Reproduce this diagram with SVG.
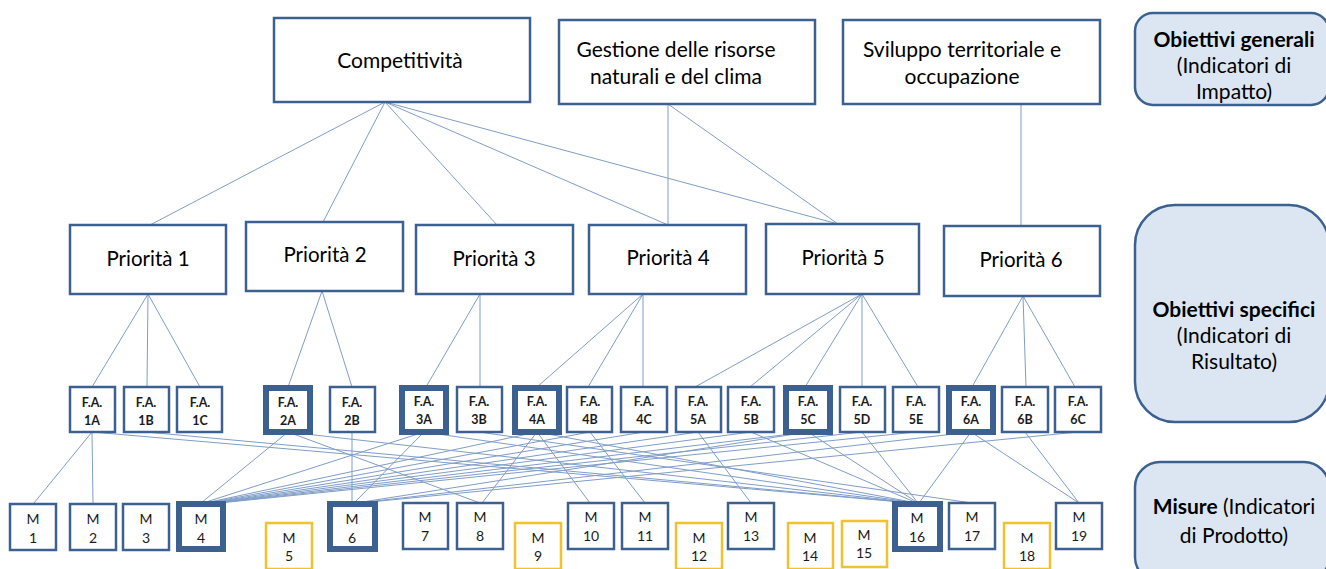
<svg xmlns="http://www.w3.org/2000/svg" width="1326" height="569" viewBox="0 0 1326 569">
  <style>
    text { font-family: Lato, "Open Sans", "Liberation Sans", sans-serif; fill: #000; text-anchor: middle; }
    .box { fill: #fff; stroke: #3c6190; stroke-width: 2.5; }
    .thick { fill: #fff; stroke: #3c6190; stroke-width: 6; }
    .gold { fill: #fff; stroke: #f2c12e; stroke-width: 2.5; }
    .side { fill: #dce6f2; stroke: #3c6190; stroke-width: 2.5; }
    .big { font-size: 21px; }
    .pri { font-size: 20.5px; }
    .fa { font-size: 12.5px; font-weight: 700; fill: #1a1a1a; }
    .m { font-size: 14px; fill: #1a1a1a; }
    .lab { font-size: 21px; }
    .b { font-weight: 700; }
    #connectors line { stroke: #7f9dc8; stroke-width: 1; }
  </style>

  <!-- connectors drawn first so boxes sit on top -->
  <g id="connectors">
    <!-- general objectives to priorities -->
    <line x1="385" y1="102" x2="150" y2="225"/>
    <line x1="385" y1="102" x2="323" y2="222"/>
    <line x1="385" y1="102" x2="497" y2="225"/>
    <line x1="385" y1="102" x2="668" y2="225"/>
    <line x1="385" y1="102" x2="838" y2="224"/>
    <line x1="668" y1="104" x2="668" y2="225"/>
    <line x1="668" y1="104" x2="838" y2="224"/>
    <line x1="1021" y1="104" x2="1021" y2="226"/>
    <!-- priorities to focus areas -->
    <line x1="148" y1="294" x2="92" y2="387"/>
    <line x1="148" y1="294" x2="147" y2="387"/>
    <line x1="148" y1="294" x2="200" y2="387"/>
    <line x1="322" y1="291" x2="288" y2="387"/>
    <line x1="322" y1="291" x2="352" y2="387"/>
    <line x1="480" y1="294" x2="426" y2="387"/>
    <line x1="480" y1="294" x2="480" y2="387"/>
    <line x1="643" y1="294" x2="537" y2="387"/>
    <line x1="643" y1="294" x2="588" y2="387"/>
    <line x1="643" y1="294" x2="643" y2="387"/>
    <line x1="862" y1="294" x2="695" y2="387"/>
    <line x1="862" y1="294" x2="750" y2="387"/>
    <line x1="862" y1="294" x2="805" y2="387"/>
    <line x1="862" y1="294" x2="862" y2="387"/>
    <line x1="862" y1="294" x2="918" y2="387"/>
    <line x1="1023" y1="296" x2="972" y2="387"/>
    <line x1="1023" y1="296" x2="1026" y2="387"/>
    <line x1="1023" y1="296" x2="1075" y2="387"/>
    <!-- focus areas to measures -->
    <line x1="92" y1="432" x2="34" y2="503"/>
    <line x1="92" y1="432" x2="93" y2="503"/>
    <line x1="92" y1="432" x2="913" y2="503"/>
    <line x1="146" y1="432" x2="914" y2="503"/>
    <line x1="288" y1="432" x2="201" y2="503"/>
    <line x1="288" y1="432" x2="480" y2="503"/>
    <line x1="288" y1="432" x2="915" y2="503"/>
    <line x1="352" y1="432" x2="352" y2="503"/>
    <line x1="424" y1="432" x2="203" y2="503"/>
    <line x1="424" y1="432" x2="354" y2="503"/>
    <line x1="424" y1="432" x2="916" y2="503"/>
    <line x1="479" y1="432" x2="972" y2="503"/>
    <line x1="537" y1="432" x2="205" y2="503"/>
    <line x1="537" y1="432" x2="482" y2="503"/>
    <line x1="537" y1="432" x2="590" y2="503"/>
    <line x1="537" y1="432" x2="917" y2="503"/>
    <line x1="590" y1="432" x2="645" y2="503"/>
    <line x1="590" y1="432" x2="207" y2="503"/>
    <line x1="644" y1="432" x2="209" y2="503"/>
    <line x1="698" y1="432" x2="751" y2="503"/>
    <line x1="698" y1="432" x2="211" y2="503"/>
    <line x1="751" y1="432" x2="917" y2="503"/>
    <line x1="751" y1="432" x2="213" y2="503"/>
    <line x1="808" y1="432" x2="918" y2="503"/>
    <line x1="808" y1="432" x2="215" y2="503"/>
    <line x1="808" y1="432" x2="356" y2="503"/>
    <line x1="862" y1="432" x2="918" y2="503"/>
    <line x1="862" y1="432" x2="217" y2="503"/>
    <line x1="916" y1="432" x2="219" y2="503"/>
    <line x1="971" y1="432" x2="919" y2="503"/>
    <line x1="971" y1="432" x2="1079" y2="503"/>
    <line x1="971" y1="432" x2="358" y2="503"/>
    <line x1="1025" y1="432" x2="1079" y2="503"/>
    <line x1="1078" y1="432" x2="360" y2="503"/>
  </g>

  <!-- general objectives -->
  <g id="competitivita"><rect class="box" x="274" y="18" width="256" height="84"/><text class="big" x="400" y="68">Competitività</text></g>
  <g id="gestione"><rect class="box" x="559" y="20" width="256" height="84"/><text class="big" x="676" y="57">Gestione delle risorse</text><text class="big" x="676" y="84">naturali e del clima</text></g>
  <g id="sviluppo"><rect class="box" x="843" y="20" width="257" height="84"/><text class="big" x="962" y="57">Sviluppo territoriale e</text><text class="big" x="962" y="84">occupazione</text></g>

  <!-- priorities -->
  <g id="p1"><rect class="box" x="70" y="225" width="156" height="69"/><text class="pri" x="148" y="266">Priorità 1</text></g>
  <g id="p2"><rect class="box" x="246" y="222" width="157" height="69"/><text class="pri" x="325" y="262">Priorità 2</text></g>
  <g id="p3"><rect class="box" x="416" y="225" width="157" height="69"/><text class="pri" x="494" y="266">Priorità 3</text></g>
  <g id="p4"><rect class="box" x="589" y="225" width="157" height="69"/><text class="pri" x="668" y="265">Priorità 4</text></g>
  <g id="p5"><rect class="box" x="766" y="224" width="153" height="70"/><text class="pri" x="843" y="265">Priorità 5</text></g>
  <g id="p6"><rect class="box" x="944" y="226" width="156" height="70"/><text class="pri" x="1021" y="267">Priorità 6</text></g>

  <!-- focus areas -->
  <g id="fa1a"><rect class="box" x="70" y="387" width="45" height="45"/><text class="fa" x="92" y="407">F.A.</text><text class="fa" x="92" y="425">1A</text></g>
  <g id="fa1b"><rect class="box" x="124" y="387" width="45" height="45"/><text class="fa" x="146" y="407">F.A.</text><text class="fa" x="146" y="425">1B</text></g>
  <g id="fa1c"><rect class="box" x="177" y="387" width="45" height="45"/><text class="fa" x="200" y="407">F.A.</text><text class="fa" x="200" y="425">1C</text></g>
  <g id="fa2a"><rect class="thick" x="266" y="388" width="44" height="44"/><text class="fa" x="288" y="407">F.A.</text><text class="fa" x="288" y="425">2A</text></g>
  <g id="fa2b"><rect class="box" x="330" y="387" width="45" height="45"/><text class="fa" x="352" y="407">F.A.</text><text class="fa" x="352" y="425">2B</text></g>
  <g id="fa3a"><rect class="thick" x="402" y="388" width="44" height="44"/><text class="fa" x="424" y="406">F.A.</text><text class="fa" x="424" y="424">3A</text></g>
  <g id="fa3b"><rect class="box" x="457" y="387" width="45" height="45"/><text class="fa" x="479" y="406">F.A.</text><text class="fa" x="479" y="424">3B</text></g>
  <g id="fa4a"><rect class="thick" x="515" y="388" width="44" height="44"/><text class="fa" x="537" y="406">F.A.</text><text class="fa" x="537" y="424">4A</text></g>
  <g id="fa4b"><rect class="box" x="567" y="387" width="45" height="45"/><text class="fa" x="590" y="406">F.A.</text><text class="fa" x="590" y="424">4B</text></g>
  <g id="fa4c"><rect class="box" x="621" y="387" width="46" height="45"/><text class="fa" x="644" y="406">F.A.</text><text class="fa" x="644" y="424">4C</text></g>
  <g id="fa5a"><rect class="box" x="676" y="387" width="45" height="45"/><text class="fa" x="698" y="406">F.A.</text><text class="fa" x="698" y="424">5A</text></g>
  <g id="fa5b"><rect class="box" x="728" y="387" width="46" height="45"/><text class="fa" x="751" y="406">F.A.</text><text class="fa" x="751" y="424">5B</text></g>
  <g id="fa5c"><rect class="thick" x="786" y="388" width="44" height="44"/><text class="fa" x="808" y="406">F.A.</text><text class="fa" x="808" y="424">5C</text></g>
  <g id="fa5d"><rect class="box" x="840" y="387" width="45" height="45"/><text class="fa" x="862" y="406">F.A.</text><text class="fa" x="862" y="424">5D</text></g>
  <g id="fa5e"><rect class="box" x="893" y="387" width="46" height="45"/><text class="fa" x="916" y="406">F.A.</text><text class="fa" x="916" y="424">5E</text></g>
  <g id="fa6a"><rect class="thick" x="949" y="388" width="44" height="44"/><text class="fa" x="971" y="406">F.A.</text><text class="fa" x="971" y="424">6A</text></g>
  <g id="fa6b"><rect class="box" x="1002" y="387" width="46" height="45"/><text class="fa" x="1025" y="406">F.A.</text><text class="fa" x="1025" y="424">6B</text></g>
  <g id="fa6c"><rect class="box" x="1055" y="387" width="46" height="45"/><text class="fa" x="1078" y="406">F.A.</text><text class="fa" x="1078" y="424">6C</text></g>

  <!-- measures -->
  <g id="m1"><rect class="box" x="10" y="504" width="46" height="46"/><text class="m" x="33" y="524">M</text><text class="m" x="33" y="543">1</text></g>
  <g id="m2"><rect class="box" x="70" y="504" width="46" height="46"/><text class="m" x="93" y="524">M</text><text class="m" x="93" y="543">2</text></g>
  <g id="m3"><rect class="box" x="123" y="504" width="46" height="46"/><text class="m" x="146" y="524">M</text><text class="m" x="146" y="543">3</text></g>
  <g id="m4"><rect class="thick" x="179" y="504" width="44" height="45"/><text class="m" x="201" y="524">M</text><text class="m" x="201" y="543">4</text></g>
  <g id="m5"><rect class="gold" x="266" y="523" width="46" height="46"/><text class="m" x="289" y="543">M</text><text class="m" x="289" y="561">5</text></g>
  <g id="m6"><rect class="thick" x="330" y="504" width="45" height="45"/><text class="m" x="352" y="524">M</text><text class="m" x="352" y="543">6</text></g>
  <g id="m7"><rect class="box" x="403" y="503" width="45" height="46"/><text class="m" x="425" y="522">M</text><text class="m" x="425" y="541">7</text></g>
  <g id="m8"><rect class="box" x="457" y="503" width="46" height="46"/><text class="m" x="480" y="522">M</text><text class="m" x="480" y="541">8</text></g>
  <g id="m9"><rect class="gold" x="515" y="523" width="46" height="46"/><text class="m" x="538" y="543">M</text><text class="m" x="538" y="561">9</text></g>
  <g id="m10"><rect class="box" x="568" y="503" width="46" height="46"/><text class="m" x="591" y="522">M</text><text class="m" x="591" y="541">10</text></g>
  <g id="m11"><rect class="box" x="622" y="503" width="46" height="46"/><text class="m" x="645" y="522">M</text><text class="m" x="645" y="541">11</text></g>
  <g id="m12"><rect class="gold" x="676" y="523" width="46" height="46"/><text class="m" x="699" y="543">M</text><text class="m" x="699" y="561">12</text></g>
  <g id="m13"><rect class="box" x="728" y="503" width="46" height="46"/><text class="m" x="751" y="522">M</text><text class="m" x="751" y="541">13</text></g>
  <g id="m14"><rect class="gold" x="788" y="523" width="45" height="46"/><text class="m" x="810" y="543">M</text><text class="m" x="810" y="561">14</text></g>
  <g id="m15"><rect class="gold" x="842" y="521" width="45" height="46"/><text class="m" x="864" y="540">M</text><text class="m" x="864" y="558">15</text></g>
  <g id="m16"><rect class="thick" x="895" y="504" width="45" height="45"/><text class="m" x="917" y="523">M</text><text class="m" x="917" y="542">16</text></g>
  <g id="m17"><rect class="box" x="949" y="503" width="46" height="46"/><text class="m" x="972" y="522">M</text><text class="m" x="972" y="541">17</text></g>
  <g id="m18"><rect class="gold" x="1004" y="523" width="46" height="46"/><text class="m" x="1027" y="543">M</text><text class="m" x="1027" y="561">18</text></g>
  <g id="m19"><rect class="box" x="1056" y="503" width="46" height="46"/><text class="m" x="1079" y="522">M</text><text class="m" x="1079" y="541">19</text></g>

  <!-- level labels on the right -->
  <g id="lab-generali"><rect class="side" x="1135" y="13" width="194" height="92" rx="18"/><text class="lab b" x="1234" y="47">Obiettivi generali</text><text class="lab" x="1234" y="73">(Indicatori di</text><text class="lab" x="1234" y="99">Impatto)</text></g>
  <g id="lab-specifici"><rect class="side" x="1135" y="205" width="194" height="217" rx="40"/><text class="lab b" x="1234" y="317">Obiettivi specifici</text><text class="lab" x="1234" y="343">(Indicatori di</text><text class="lab" x="1234" y="369">Risultato)</text></g>
  <g id="lab-misure"><rect class="side" x="1135" y="462" width="194" height="120" rx="25"/><text class="lab" x="1234" y="514"><tspan class="b">Misure</tspan> (Indicatori</text><text class="lab" x="1234" y="543">di Prodotto)</text></g>
</svg>
